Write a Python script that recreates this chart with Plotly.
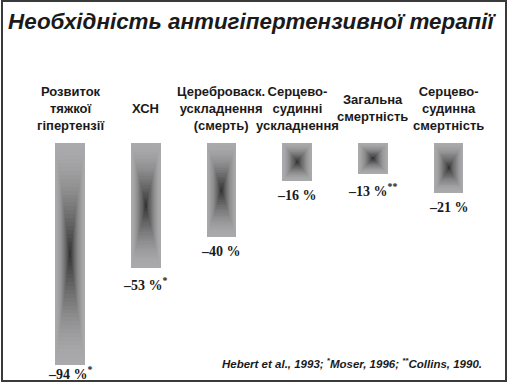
import plotly.graph_objects as go

# ---- data ----
categories = [
    "Розвиток<br>тяжкої<br>гіпертензії",
    "ХСН",
    "Цереброваск.<br>ускладнення<br>(смерть)",
    "Серцево-<br>судинні<br>ускладнення",
    "Загальна<br>смертність",
    "Серцево-<br>судинна<br>смертність",
]
reduction_pct = [94, 53, 40, 16, 13, 21]
value_labels = ["–94 %<sup>*</sup>", "–53 %<sup>*</sup>", "–40 %", "–16 %",
                "–13 %<sup>**</sup>", "–21 %"]
title_text = "Необхідність антигіпертензивної терапії"
source_text = ("Hebert et al., 1993; <sup>*</sup>Moser, 1996; "
               "<sup>**</sup>Collins, 1990.")

# ---- geometry / style ----
W, H = 510, 383
x_range = [-0.925, 5.81]
y_range = [-101.6, 60.5]
bar_w = 0.39
levels = 28
light = (170, 170, 172)
dark = (55, 55, 55)

def shade(t):
    g = t ** 1.6
    c = [round(l + (d - l) * g) for l, d in zip(light, dark)]
    return f"rgb({c[0]},{c[1]},{c[2]})"

xs = list(range(len(categories)))
fig = go.Figure()
for k in range(levels):
    f = 1 - k / levels
    t = k / (levels - 1)
    fig.add_trace(go.Bar(
        x=xs,
        y=[-v * f for v in reduction_pct],
        base=[-v * (1 - f) / 2 for v in reduction_pct],
        width=bar_w * f,
        marker=dict(color=shade(t), line=dict(width=0)),
        hoverinfo="skip",
        showlegend=False,
    ))

ppu = H / (y_range[1] - y_range[0])  # pixels per unit

def to_px(y):
    return (y_range[1] - y) * ppu

def to_data(px):
    return y_range[1] - px / ppu

cat_font = "Liberation Sans, Arial"
annotations = []
# category labels
for i, c in enumerate(categories):
    annotations.append(dict(
        x=i, xref="x", y=1 - 108 / H, yref="paper",
        text="<b>" + c + "</b>", showarrow=False, xanchor="center", yanchor="middle",
        font=dict(family=cat_font, size=13, color="#1a1a1a"),
        align="center",
    ))
# value labels
for i, (v, lab) in enumerate(zip(reduction_pct, value_labels)):
    top_px = min(to_px(-v) + 5, 362)
    annotations.append(dict(
        x=i, xref="x", y=to_data(top_px), yref="y",
        text="<b>" + lab + "</b>", showarrow=False,
        xanchor="center", yanchor="top",
        font=dict(family="Liberation Serif, Times New Roman", size=14, color="#1a1a1a"),
    ))
# title
annotations.append(dict(
    x=252 / W, xref="paper", y=1 - 22 / H, yref="paper",
    text="<b><i>" + title_text + "</i></b>", showarrow=False,
    xanchor="center", yanchor="middle",
    font=dict(family="Liberation Sans, Arial", size=22.4, color="#1a1a1a"),
))
# source
annotations.append(dict(
    x=484 / W, xref="paper", y=1 - 363 / H, yref="paper",
    text="<b><i>" + source_text + "</i></b>", showarrow=False,
    xanchor="right", yanchor="middle",
    font=dict(family="Liberation Sans, Arial", size=11.5, color="#1a1a1a"),
))

fig.update_layout(
    width=W, height=H,
    margin=dict(l=0, r=0, t=0, b=0),
    paper_bgcolor="white", plot_bgcolor="white",
    barmode="overlay", bargap=0,
    xaxis=dict(range=x_range, visible=False, fixedrange=True),
    yaxis=dict(range=y_range, visible=False, fixedrange=True),
    annotations=annotations,
    shapes=[dict(type="rect", xref="paper", yref="paper",
                 x0=2 / W, x1=506 / W, y0=1 - 381 / H, y1=1 - 1 / H,
                 line=dict(color="#3a3a3a", width=2), layer="above")],
)

fig.write_html("out.html", config={"displayModeBar": False},
               post_script="document.body.style.margin='0';document.body.style.overflow='hidden';")
